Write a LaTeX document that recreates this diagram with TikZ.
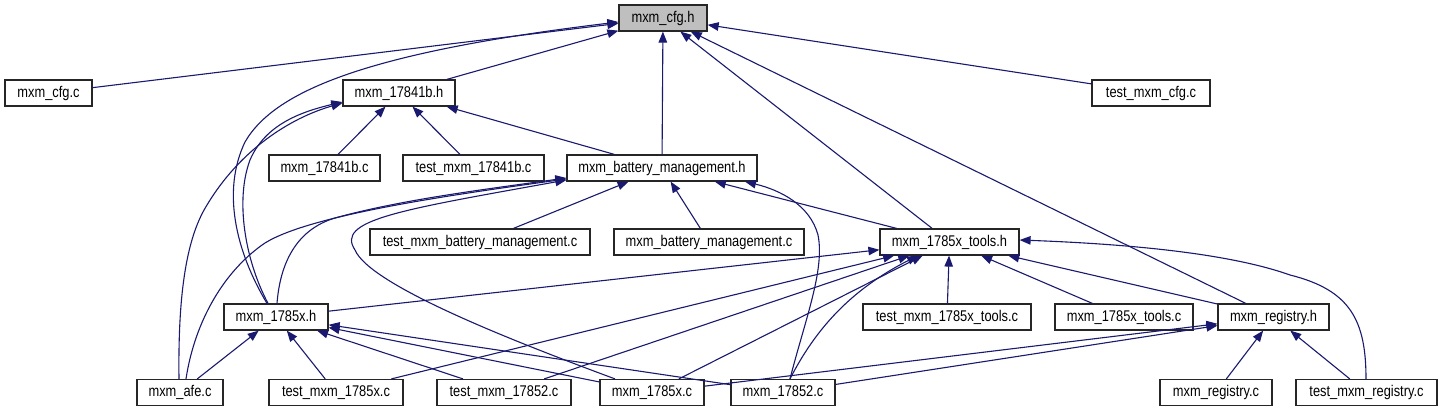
\documentclass[tikz,border=0pt]{standalone}
\usepackage{fontspec}
\newfontfamily\nodefont[FakeStretch=0.83]{Liberation Sans}
\usetikzlibrary{arrows.meta,calc}
\definecolor{edgeblue}{RGB}{25,25,112}
\definecolor{fillgray}{RGB}{191,191,191}
\begin{document}
\begin{tikzpicture}[x=1pt,y=-1pt,
  box/.style={draw=black!85, line width=1.2pt, fill=white, inner sep=0pt,
    minimum height=26pt, text height=11pt, text depth=2.6pt,
    font=\nodefont\fontsize{15.5}{18}\selectfont},
  edge/.style={draw=edgeblue, line width=1.1pt, -{Triangle[length=11pt,width=8.5pt]}}]
\fill[white] (0,0) rectangle (1443,411);
\useasboundingbox (0,0) rectangle (1443,411);
% row 1
\node[box, minimum width=88pt, fill=fillgray] (cfgh) at (663,18) {mxm\_cfg.h};
% row 2
\node[box, minimum width=87pt] (cfgc) at (48.5,93) {mxm\_cfg.c};
\node[box, minimum width=112pt] (h17841b) at (399,93) {mxm\_17841b.h};
\node[box, minimum width=118pt] (testcfgc) at (1151,93) {test\_mxm\_cfg.c};
% row 3
\node[box, minimum width=111pt] (c17841b) at (324.5,168) {mxm\_17841b.c};
\node[box, minimum width=141pt] (t17841bc) at (473.5,168) {test\_mxm\_17841b.c};
\node[box, minimum width=190pt] (bmh) at (662,168) {mxm\_battery\_management.h};
% row 4
\node[box, minimum width=220pt] (tbmc) at (480,242) {test\_mxm\_battery\_management.c};
\node[box, minimum width=190pt] (bmc) at (709,242) {mxm\_battery\_management.c};
\node[box, minimum width=139pt] (toolsh) at (949.5,242) {mxm\_1785x\_tools.h};
% row 5
\node[box, minimum width=104pt] (hx) at (276,317) {mxm\_1785x.h};
\node[box, minimum width=168pt] (ttoolsc) at (947,317) {test\_mxm\_1785x\_tools.c};
\node[box, minimum width=138pt] (toolsc) at (1124,317) {mxm\_1785x\_tools.c};
\node[box, minimum width=111pt] (regh) at (1273.5,317) {mxm\_registry.h};
% row 6
\node[box, minimum width=86pt] (afec) at (180,392.5) {mxm\_afe.c};
\node[box, minimum width=134pt] (t1785xc) at (336,392.5) {test\_mxm\_1785x.c};
\node[box, minimum width=134pt] (t17852c) at (504,392.5) {test\_mxm\_17852.c};
\node[box, minimum width=104pt] (cxc) at (652,392.5) {mxm\_1785x.c};
\node[box, minimum width=104pt] (c17852) at (783,392.5) {mxm\_17852.c};
\node[box, minimum width=112pt] (regc) at (1216,392.5) {mxm\_registry.c};
\node[box, minimum width=141pt] (tregc) at (1366.5,392.5) {test\_mxm\_registry.c};

% into mxm_cfg.h
\draw[edge] (cfgc) -- (cfgh);
\draw[edge] (h17841b) -- (cfgh);
\draw[edge] (bmh) -- (cfgh);
\draw[edge] (toolsh) -- (cfgh);
\draw[edge] (regh) -- (cfgh);
\draw[edge] (testcfgc) -- (cfgh);
\draw[edge] ([xshift=-9pt]hx.north) .. controls (235,250) and (222,190) .. (245,142)
  .. controls (275,90) and (370,52) .. ([yshift=-4pt]cfgh.west);
% into mxm_17841b.h
\draw[edge] (c17841b) -- (h17841b);
\draw[edge] (t17841bc) -- (h17841b);
\draw[edge] (bmh) -- (h17841b);
\draw[edge] ([xshift=-1pt]afec.north) .. controls (178,300) and (185,240) .. (207,205)
  .. controls (240,150) and (290,118) .. ([yshift=-10pt]h17841b.west);
\draw[edge] ([xshift=-8pt]hx.north) .. controls (245,260) and (235,200) .. (250,160)
  .. controls (265,125) and (300,112) .. ([yshift=-9pt]h17841b.west);
% into mxm_battery_management.h
\draw[edge] (tbmc) -- (bmh);
\draw[edge] (bmc) -- (bmh);
\draw[edge] (toolsh) -- (bmh);
\draw[edge] ([xshift=1pt]hx.north) .. controls (280,265) and (295,230) .. (335,218)
  .. controls (400,200) and (480,190) .. ([yshift=-10pt]bmh.west);
\draw[edge] ([xshift=6pt]afec.north) .. controls (195,320) and (225,270) .. (265,243)
  .. controls (310,215) and (450,195) .. ([yshift=-11pt]bmh.west);
\draw[edge] ([xshift=-37pt]cxc.north) .. controls (510,340) and (370,285) .. (355,250)
  .. controls (335,220) and (400,210) .. ([yshift=-12pt]bmh.west);
\draw[edge] ([xshift=7pt]c17852.north) .. controls (805,320) and (825,270) .. (818,235)
  .. controls (810,205) and (780,190) .. ([xshift=83pt]bmh.south);
% into mxm_1785x_tools.h
\draw[edge] (hx) -- (toolsh);
\draw[edge] (ttoolsc) -- (toolsh);
\draw[edge] (toolsc) -- (toolsh);
\draw[edge] (regh) -- (toolsh);
\draw[edge] (t1785xc) -- (toolsh);
\draw[edge] (t17852c) -- (toolsh);
\draw[edge] (cxc) -- (toolsh);
\draw[edge] ([xshift=7pt]c17852.north) .. controls (815,330) and (850,290) .. ([xshift=-31.5pt]toolsh.south);
\draw[edge] ([xshift=-0.5pt]tregc.north) .. controls (1366,320) and (1350,290) .. (1290,275)
  .. controls (1220,250) and (1100,243) .. ([yshift=2pt]toolsh.east);
% into mxm_1785x.h
\draw[edge] (afec) -- (hx);
\draw[edge] (t1785xc) -- (hx);
\draw[edge] (t17852c) -- (hx);
\draw[edge] (cxc) -- (hx);
\draw[edge] (c17852) -- (hx);
% into mxm_registry.h
\draw[edge] (regc) -- (regh);
\draw[edge] (tregc) -- (regh);
\draw[edge] (c17852) -- (regh);
\draw[edge] (cxc) -- (regh);
\end{tikzpicture}
\end{document}
